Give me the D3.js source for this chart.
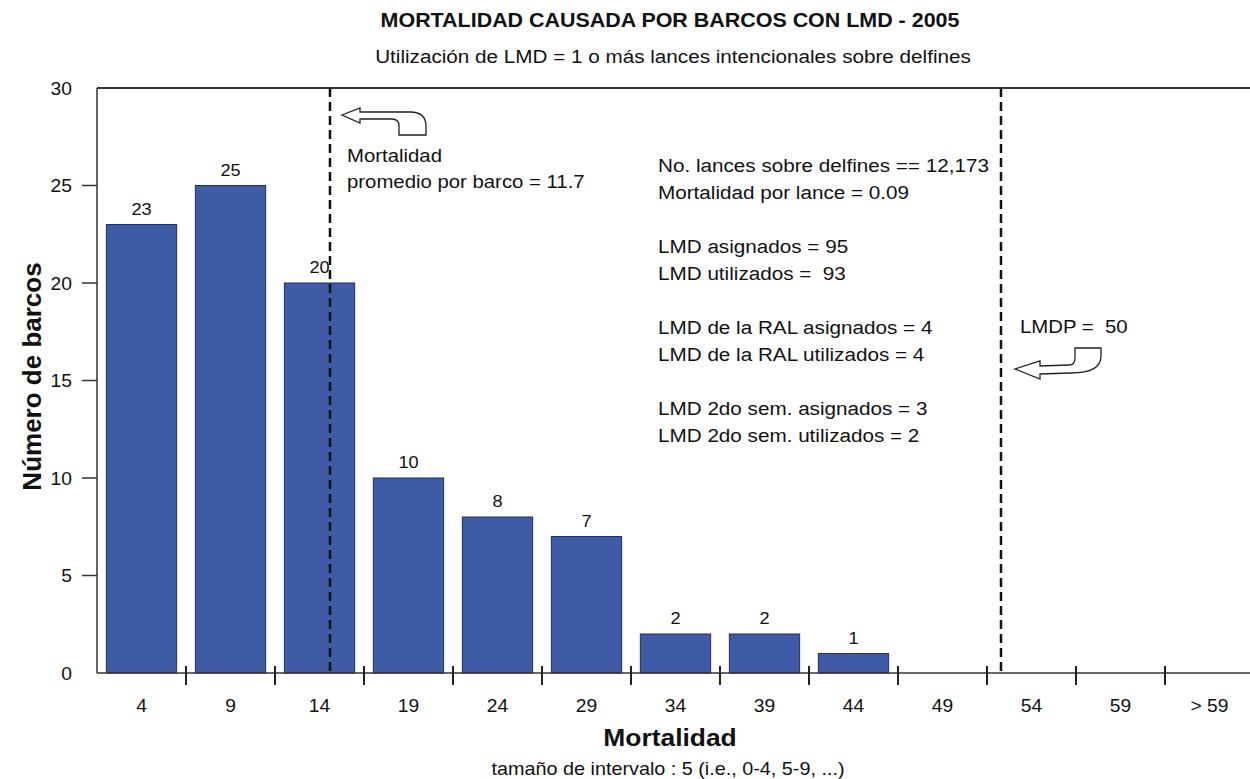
<!DOCTYPE html>
<html>
<head>
<meta charset="utf-8">
<script src="https://cdn.jsdelivr.net/npm/d3@7"></script>
<style>
  body { margin: 0; background: #fff; }
  text { font-family: "Liberation Sans", Arial, sans-serif; fill: #111; white-space: pre; }
</style>
</head>
<body>
<div id="chart"></div>
<script>
// histogram data
const categories = ["4", "9", "14", "19", "24", "29", "34", "39", "44", "49", "54", "59", "> 59"];
const counts = [23, 25, 20, 10, 8, 7, 2, 2, 1, 0, 0, 0, 0];
const yTicks = [0, 5, 10, 15, 20, 25, 30];

// reference lines (mortality values)
const meanMortality = 11.7;
const lmdp = 50;

const statsLines = [
    "No. lances sobre delfines == 12,173",
    "Mortalidad por lance = 0.09",
    "",
    "LMD asignados = 95",
    "LMD utilizados =  93",
    "",
    "LMD de la RAL asignados = 4",
    "LMD de la RAL utilizados = 4",
    "",
    "LMD 2do sem. asignados = 3",
    "LMD 2do sem. utilizados = 2"
];

const width = 1250, height = 779;
const margin = { top: 88, left: 97, bottom: 106 };
const step = 89;
const plotW = step * categories.length;
const plotH = height - margin.top - margin.bottom;
const sx = 1.1; // text in the source is a bit wide

const svg = d3.select("#chart").append("svg")
    .attr("width", width)
    .attr("height", height);

// text helper, slightly stretched horizontally
const label = (parent, x, y, str, size, anchor = "start", weight = "normal") =>
    parent.append("text")
        .attr("transform", `translate(${x},${y}) scale(${sx},1)`)
        .attr("text-anchor", anchor)
        .attr("font-size", size)
        .attr("font-weight", weight)
        .text(str);

const g = svg.append("g").attr("transform", `translate(${margin.left},${margin.top})`);

const x = d3.scaleBand()
    .domain(categories)
    .range([0, plotW])
    .paddingInner(0.21)
    .paddingOuter(0.105);

const y = d3.scaleLinear().domain([0, 30]).range([plotH, 0]);

// mortality -> x position for the dashed lines
const xm = d3.scaleLinear().domain([0, 65]).range([28, 28 + 65 * 17.52]);

// bars
g.selectAll("rect.bar")
    .data(counts.map((v, i) => ({ cat: categories[i], v })).filter(d => d.v > 0))
    .enter().append("rect")
    .attr("class", "bar")
    .attr("x", d => x(d.cat))
    .attr("width", x.bandwidth())
    .attr("y", d => y(d.v))
    .attr("height", d => plotH - y(d.v))
    .attr("fill", "#3f5ba6")
    .attr("stroke", "#1f2f5e")
    .attr("stroke-width", 1);

// value labels
counts.forEach((d, i) => {
    if (d <= 0) return;
    label(g, x(categories[i]) + x.bandwidth() / 2, y(d) - 10, d, 16.5, "middle");
});

// frame: left axis, top line, bottom axis
g.append("line").attr("x1", 0).attr("x2", 0).attr("y1", 0).attr("y2", plotH)
    .attr("stroke", "#333").attr("stroke-width", 1.5);
g.append("line").attr("x1", 0).attr("x2", plotW).attr("y1", 0).attr("y2", 0)
    .attr("stroke", "#333").attr("stroke-width", 2);
g.append("line").attr("x1", 0).attr("x2", plotW).attr("y1", plotH).attr("y2", plotH)
    .attr("stroke", "#333").attr("stroke-width", 1.5);

// y ticks
yTicks.forEach(t => {
    if (t > 0 && t < 30) {
        g.append("line").attr("x1", -15).attr("x2", 0).attr("y1", y(t)).attr("y2", y(t))
            .attr("stroke", "#333").attr("stroke-width", 1.5);
    }
    label(g, -25, y(t) + 6.5, t, 17.5, "end");
});

// x ticks at band boundaries
categories.forEach((c, i) => {
    if (i > 0) {
        const bx = x(c) - x.step() * x.paddingInner() / 2;
        g.append("line").attr("x1", bx).attr("x2", bx).attr("y1", plotH - 7).attr("y2", plotH + 12)
            .attr("stroke", "#222").attr("stroke-width", 2);
    }
    label(g, x(c) + x.bandwidth() / 2, plotH + 39, c, 17.5, "middle");
});

// dashed reference lines
[meanMortality, lmdp].forEach(v => {
    g.append("line")
        .attr("x1", xm(v)).attr("x2", xm(v))
        .attr("y1", 0).attr("y2", plotH)
        .attr("stroke", "#111")
        .attr("stroke-width", 2.5)
        .attr("stroke-dasharray", "9,5");
});

// curved arrows (outlined)
const mx = xm(meanMortality);
g.append("path")
    .attr("d", `M${mx + 12},27 L${mx + 30},20 L${mx + 30},24 L${mx + 80},24
        Q${mx + 96},24 ${mx + 96},38 L${mx + 96},47 L${mx + 69},47 L${mx + 69},38
        Q${mx + 69},31 ${mx + 62},31 L${mx + 30},31 L${mx + 30},35 Z`)
    .attr("fill", "#fff").attr("stroke", "#222").attr("stroke-width", 1.3);

const lx = xm(lmdp);
g.append("path")
    .attr("d", `M${lx + 14},281 L${lx + 39},273 L${lx + 39},278 L${lx + 68},277
        Q${lx + 74},277 ${lx + 74},270 L${lx + 74},260 L${lx + 100},260 L${lx + 100},268
        Q${lx + 100},285 ${lx + 70},285 L${lx + 39},286 L${lx + 39},291 Z`)
    .attr("fill", "#fff").attr("stroke", "#222").attr("stroke-width", 1.3);

// annotations
label(g, mx + 17, 74, "Mortalidad", 18.5);
label(g, mx + 17, 100, "promedio por barco = 11.7", 18.5);
label(g, lx + 19, 245, "LMDP =  50", 18.5);

// stats block
const lineH = 27;
statsLines.forEach((s, i) => {
    if (!s) return;
    label(g, 561, 84 + i * lineH, s, 18.8);
});

// titles
label(svg, 670, 27, "MORTALIDAD CAUSADA POR BARCOS CON LMD - 2005", 19.5, "middle", "bold");
label(svg, 673, 63, "Utilización de LMD = 1 o más lances intencionales sobre delfines", 18.8, "middle");
label(svg, 670, 746, "Mortalidad", 24, "middle", "bold");
label(svg, 668, 775, "tamaño de intervalo : 5 (i.e., 0-4, 5-9, ...)", 18, "middle");

svg.append("text")
    .attr("transform", `translate(41,${margin.top + plotH / 2 - 4}) rotate(-90)`)
    .attr("text-anchor", "middle")
    .attr("font-size", 26).attr("font-weight", "bold")
    .text("Número de barcos");
</script>
</body>
</html>
